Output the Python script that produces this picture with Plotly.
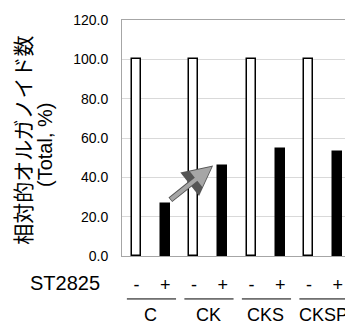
import plotly.graph_objects as go

groups = ["C", "CK", "CKS", "CKSP"]
st_labels = ["-", "+"]
minus_values = [100.0, 100.0, 100.0, 100.0]
plus_values = [26.5, 45.7, 54.5, 53.0]
y_ticks = [0, 20, 40, 60, 80, 100, 120]

x_pos, y_vals, colors, tick_text = [], [], [], []
for g, name in enumerate(groups):
    for s, lab in enumerate(st_labels):
        x_pos.append(2 * g + s)
        y_vals.append(minus_values[g] if s == 0 else plus_values[g])
        colors.append("white" if s == 0 else "black")
        tick_text.append(lab)

fig = go.Figure()
fig.add_trace(go.Bar(
    x=x_pos, y=y_vals, width=0.31,
    marker=dict(color=colors, line=dict(color="black", width=1.5)),
    showlegend=False,
))

FONT = "Liberation Sans, Arial, sans-serif"
JFONT = "Noto Sans CJK JP, sans-serif"

annotations = []
for g, name in enumerate(groups):
    annotations.append(dict(x=2 * g + 0.5, xref="x", y=-0.25, yref="paper",
                            text=name, showarrow=False, xanchor="center", yanchor="middle",
                            font=dict(family=FONT, size=18, color="black")))
annotations.append(dict(x=-0.085, xref="paper", y=-0.114, yref="paper", text="ST2825",
                        showarrow=False, xanchor="right", yanchor="middle",
                        font=dict(family=FONT, size=20, color="black")))
annotations.append(dict(x=-0.433, xref="paper", y=0.49, yref="paper", text="相対的オルガノイド数",
                        textangle=-90, showarrow=False, xanchor="center", yanchor="middle",
                        font=dict(family=JFONT, size=21, color="black")))
annotations.append(dict(x=-0.335, xref="paper", y=0.47, yref="paper", text="(Total, %)",
                        textangle=-90, showarrow=False, xanchor="center", yanchor="middle",
                        font=dict(family=FONT, size=20, color="black")))
# trend arrow from C(+) to CK(+)
annotations.append(dict(x=2.67, y=46, xref="x", yref="y", ax=1.13, ay=28, axref="x", ayref="y",
                        text="", showarrow=True, arrowhead=2, arrowsize=1.0, arrowwidth=6,
                        arrowcolor="#555555"))
annotations.append(dict(x=2.62, y=45.4, xref="x", yref="y", ax=1.15, ay=28.2, axref="x", ayref="y",
                        text="", showarrow=True, arrowhead=2, arrowsize=1.0, arrowwidth=4,
                        arrowcolor="#a6a6a6"))

shapes = []
for g in range(len(groups)):
    shapes.append(dict(type="line", xref="x", yref="paper", x0=2 * g - 0.33, x1=2 * g + 1.38,
                       y0=-0.182, y1=-0.182, line=dict(color="black", width=1)))

fig.update_layout(
    width=345, height=316,
    margin=dict(l=114, r=1, t=12, b=68),
    paper_bgcolor="white", plot_bgcolor="white",
    bargap=0,
    annotations=annotations, shapes=shapes,
    xaxis=dict(range=[-0.5, 7.5], tickvals=x_pos, ticktext=tick_text, ticks="",
               showgrid=False, zeroline=False, showline=True, linecolor="#a6a6a6",
               linewidth=1, mirror=True, ticklabelstandoff=12,
               tickfont=dict(family=FONT, size=18, color="black")),
    yaxis=dict(range=[0, 120], tickvals=y_ticks, tickformat=".1f", ticks="",
               showgrid=True, gridcolor="#d9d9d9", gridwidth=1, zeroline=False,
               showline=True, linecolor="#a6a6a6", linewidth=1, mirror=True,
               ticklabelstandoff=10,
               tickfont=dict(family=FONT, size=14, color="black")),
)

fig.write_html("out.html")
